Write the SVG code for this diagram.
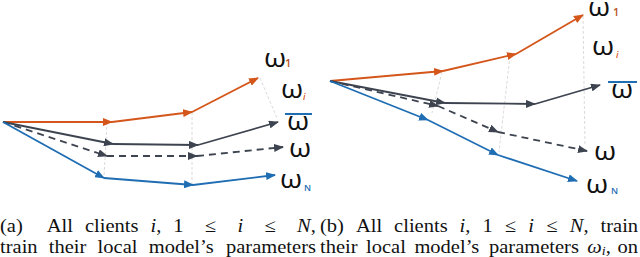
<svg xmlns="http://www.w3.org/2000/svg" width="640" height="257" viewBox="0 0 640 257">
<defs>
<style>
.o{stroke:#d4561a;stroke-width:1.8;fill:none;marker-end:url(#ao)}
.g{stroke:#3d4450;stroke-width:1.8;fill:none;marker-end:url(#ag)}
.d{stroke:#3d4450;stroke-width:1.8;fill:none;stroke-dasharray:7 5;marker-end:url(#ag)}
.b{stroke:#1f6db3;stroke-width:1.8;fill:none;marker-end:url(#ab)}
.f{stroke:#d0d0d0;stroke-width:0.8;fill:none;stroke-dasharray:3 2}
.w{font-family:"Open Sans","DejaVu Sans",sans-serif;fill:#111;font-size:26px;font-weight:500}
.s{font-family:"Open Sans","DejaVu Sans",sans-serif;font-weight:600}
.cap{font-family:"Liberation Serif","Times New Roman",serif;font-size:19px;fill:#111}
.it{font-style:italic}
</style>
<marker id="ao" viewBox="0 0 10 8" refX="9" refY="4" markerWidth="10" markerHeight="8" markerUnits="userSpaceOnUse" orient="auto"><path d="M0,0 L10,4 L0,8 z" fill="#d4561a"/></marker>
<marker id="ag" viewBox="0 0 10 8" refX="9" refY="4" markerWidth="10" markerHeight="8" markerUnits="userSpaceOnUse" orient="auto"><path d="M0,0 L10,4 L0,8 z" fill="#3d4450"/></marker>
<marker id="ab" viewBox="0 0 10 8" refX="9" refY="4" markerWidth="10" markerHeight="8" markerUnits="userSpaceOnUse" orient="auto"><path d="M0,0 L10,4 L0,8 z" fill="#1f6db3"/></marker>
</defs>
<rect width="640" height="257" fill="#fff"/>

<g id="connectors">
<line class="f" x1="107" y1="122" x2="104" y2="177"/>
<line class="f" x1="192" y1="112" x2="192" y2="184"/>
<line class="f" x1="260" y1="78" x2="277" y2="118"/>
<line class="f" x1="442" y1="72" x2="432" y2="113"/>
<line class="f" x1="510" y1="56" x2="499" y2="152"/>
<line class="f" x1="583" y1="16" x2="585" y2="146"/>

<line class="o" x1="3" y1="122" x2="112" y2="122"/>
<line class="o" x1="112" y1="122" x2="192" y2="112"/>
<line class="o" x1="192" y1="112" x2="258" y2="78"/>
<line class="g" x1="3" y1="122" x2="113" y2="144"/>
<line class="g" x1="113" y1="144" x2="198" y2="145"/>
<line class="g" x1="198" y1="145" x2="278" y2="122"/>
<line class="d" x1="3" y1="122" x2="107" y2="156"/>
<line class="d" x1="107" y1="156" x2="197" y2="156"/>
<line class="d" x1="197" y1="156" x2="283" y2="147"/>
<line class="b" x1="3" y1="122" x2="104" y2="178"/>
<line class="b" x1="104" y1="178" x2="193" y2="185"/>
<line class="b" x1="193" y1="185" x2="275" y2="175"/>

<line class="o" x1="330" y1="81" x2="443" y2="71"/>
<line class="o" x1="443" y1="71" x2="516" y2="54"/>
<line class="o" x1="516" y1="54" x2="583" y2="15"/>
<line class="g" x1="330" y1="81" x2="445" y2="103"/>
<line class="g" x1="445" y1="103" x2="535" y2="104"/>
<line class="g" x1="535" y1="104" x2="600" y2="85"/>
<line class="d" x1="330" y1="81" x2="438" y2="106"/>
<line class="d" x1="438" y1="106" x2="498" y2="132"/>
<line class="d" x1="498" y1="132" x2="587" y2="151"/>
<line class="b" x1="330" y1="81" x2="428" y2="120"/>
<line class="b" x1="428" y1="120" x2="498" y2="155"/>
<line class="b" x1="498" y1="155" x2="577" y2="181"/>
</g>

<g id="label-left-w1"><text class="w" transform="translate(264,67) scale(1.1,1)">ω</text><text class="s" x="285" y="67" font-size="11" fill="#b8531f">1</text></g>
<g id="label-left-wi"><text class="w" transform="translate(281,98) scale(1.1,1)">ω</text><text class="s it" x="303" y="100" font-size="9" fill="#d4561a">i</text></g>
<g id="label-left-wbar"><rect x="285" y="113" width="27" height="2" fill="#1f6db3"/><text class="w" transform="translate(287,130) scale(1.1,1)">ω</text></g>
<g id="label-left-w"><text class="w" transform="translate(289,157) scale(1.1,1)">ω</text></g>
<g id="label-left-wN"><text class="w" transform="translate(280,188) scale(1.1,1)">ω</text><text class="s" x="304" y="191" font-size="9" fill="#1f6db3">N</text></g>

<g id="label-right-w1"><text class="w" transform="translate(588,16) scale(1.1,1)">ω</text><text class="s" x="613" y="16" font-size="11" fill="#b8531f">1</text></g>
<g id="label-right-wi"><text class="w" transform="translate(592,55) scale(1.1,1)">ω</text><text class="s it" x="616" y="58" font-size="9" fill="#d4561a">i</text></g>
<g id="label-right-wbar"><rect x="608" y="81" width="29" height="2" fill="#1f6db3"/><text class="w" transform="translate(611,98) scale(1.1,1)">ω</text></g>
<g id="label-right-w"><text class="w" transform="translate(594,160) scale(1.1,1)">ω</text></g>
<g id="label-right-wN"><text class="w" transform="translate(586,193) scale(1.1,1)">ω</text><text class="s" x="611" y="194" font-size="9" fill="#1f6db3">N</text></g>

<g id="caption-a" transform="scale(1.08,1)">
<text class="cap" y="232"><tspan x="0">(a)</tspan><tspan x="43.33">All</tspan><tspan x="78.7">clients</tspan><tspan x="139.35" class="it">i</tspan><tspan>,</tspan><tspan x="160.46">1</tspan><tspan x="189.68">≤</tspan><tspan x="219.86" class="it">i</tspan><tspan x="244.86">≤</tspan><tspan x="275.05" class="it">N</tspan><tspan>,</tspan></text>
<text class="cap" y="253"><tspan x="0">train</tspan><tspan x="45.19">their</tspan><tspan x="90.37">local</tspan><tspan x="137.69">model’s</tspan><tspan x="209.26">parameters</tspan></text>
</g>
<g id="caption-b" transform="scale(1.08,1)">
<text class="cap" y="232"><tspan x="296.3">(b)</tspan><tspan x="329.54">All</tspan><tspan x="364.91">clients</tspan><tspan x="425.56" class="it">i</tspan><tspan>,</tspan><tspan x="446.67">1</tspan><tspan x="467.45">≤</tspan><tspan x="489.21" class="it">i</tspan><tspan x="505.79">≤</tspan><tspan x="527.55" class="it">N</tspan><tspan>,</tspan><tspan x="556.06">train</tspan></text>
<text class="cap" y="253"><tspan x="296.3">their</tspan><tspan x="338.94">local</tspan><tspan x="383.7">model’s</tspan><tspan x="452.74">parameters</tspan><tspan x="543.8" class="it">ω</tspan><tspan class="it" font-size="13" dy="2">i</tspan><tspan dy="-2">,</tspan><tspan x="571.76">on</tspan></text>
</g>
</svg>
